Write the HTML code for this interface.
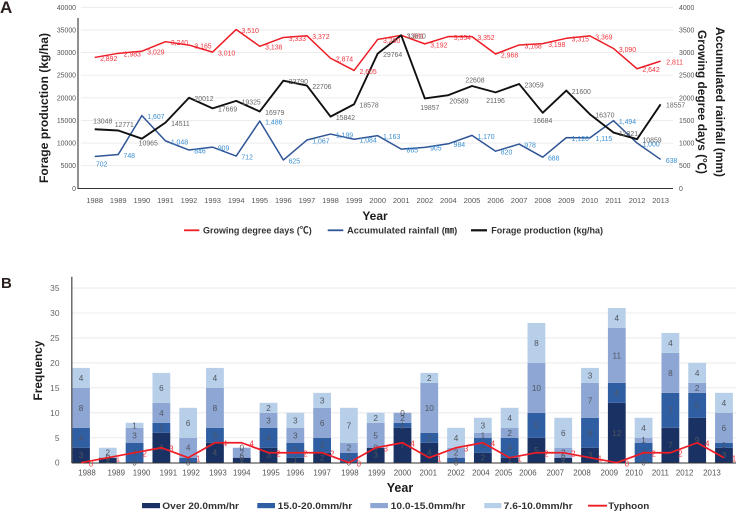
<!DOCTYPE html>
<html lang="en">
<head>
<meta charset="utf-8">
<title>Forage production and rainfall frequency charts</title>
<style>
html,body{margin:0;padding:0;background:#fff;width:738px;height:512px;overflow:hidden}
svg{display:block;font-family:"Liberation Sans","Noto Sans CJK KR",sans-serif}
.t{font-weight:bold;fill:#1c1c1c}
.lg{font-weight:bold;fill:#333;font-size:9.5px}
</style>
</head>
<body>
<svg id="fig" xmlns="http://www.w3.org/2000/svg" width="738" height="512" viewBox="0 0 738 512">
  <text x="0" y="13" font-size="17" font-weight="bold" fill="#2b1f1f">A</text>
  <text x="1" y="288" font-size="15" font-weight="bold" fill="#2b1f1f">B</text>
  <g id="chartA"></g>
  <g id="chartB"></g>

  <text class="t" transform="rotate(-90 48 108)" x="48" y="108" text-anchor="middle" font-size="11.5" textLength="150" lengthAdjust="spacingAndGlyphs">Forage production (kg/ha)</text>
  <text class="t" transform="rotate(90 716 102)" x="716" y="102" text-anchor="middle" font-size="11.5" textLength="150" lengthAdjust="spacingAndGlyphs">Accumulated rainfall (mm)</text>
  <text class="t" transform="rotate(90 698 102)" x="698" y="102" text-anchor="middle" font-size="11.5" textLength="144" lengthAdjust="spacingAndGlyphs">Growing degree days (℃)</text>
  <text class="t" x="375" y="220" text-anchor="middle" font-size="12">Year</text>
  <text class="t" x="400" y="492" text-anchor="middle" font-size="12.5">Year</text>
  <text class="t" transform="rotate(-90 42 370.5)" x="42" y="370.5" text-anchor="middle" font-size="11.5" textLength="60" lengthAdjust="spacingAndGlyphs">Frequency</text>

  <g>
    <line x1="184" x2="199.3" y1="230.3" y2="230.3" stroke="#ee1c25" stroke-width="1.8"/>
    <text class="lg" x="203" y="233.5" textLength="108.7" lengthAdjust="spacingAndGlyphs">Growing degree days (℃)</text>
    <line x1="327.7" x2="343.3" y1="230.3" y2="230.3" stroke="#2f5597" stroke-width="1.8"/>
    <text class="lg" x="347" y="233.5" textLength="110.3" lengthAdjust="spacingAndGlyphs">Accumulated rainfall (㎜)</text>
    <line x1="471" x2="487" y1="230.3" y2="230.3" stroke="#111" stroke-width="2.2"/>
    <text class="lg" x="491.3" y="233.5" textLength="111.7" lengthAdjust="spacingAndGlyphs">Forage production (kg/ha)</text>
  </g>

  <g>
    <rect x="142" y="503" width="18" height="5.2" fill="#1a3263"/>
    <text class="lg" x="162.3" y="509" textLength="76.7" lengthAdjust="spacingAndGlyphs">Over 20.0mm/hr</text>
    <rect x="257.3" y="503" width="17.7" height="5.2" fill="#2f5ea3"/>
    <text class="lg" x="277.7" y="509" textLength="74.6" lengthAdjust="spacingAndGlyphs">15.0-20.0mm/hr</text>
    <rect x="370.3" y="503" width="17.7" height="5.2" fill="#8ea6d3"/>
    <text class="lg" x="390.7" y="509" textLength="74.6" lengthAdjust="spacingAndGlyphs">10.0-15.0mm/hr</text>
    <rect x="484.3" y="503" width="17" height="5.2" fill="#b7cfe8"/>
    <text class="lg" x="503.7" y="509" textLength="69" lengthAdjust="spacingAndGlyphs">7.6-10.0mm/hr</text>
    <line x1="588" x2="607" y1="505.7" y2="505.7" stroke="#ee1c25" stroke-width="1.8"/>
    <text class="lg" x="608.3" y="509" textLength="41" lengthAdjust="spacingAndGlyphs">Typhoon</text>
  </g>
</svg>

<script>
/* ---------- data ---------- */
const years = [1988,1989,1990,1991,1992,1993,1994,1995,1996,1997,1998,1999,2000,2001,2002,2004,2005,2006,2007,2008,2009,2010,2011,2012,2013];
const growingDegreeDays = [2892,2983,3029,3240,3165,3010,3510,3138,3333,3372,2874,2605,3290,3381,3192,3354,3352,2968,3168,3198,3315,3369,3090,2642,2811];
const accumulatedRainfall = [702,748,1607,1048,846,909,712,1486,625,1067,1199,1084,1163,865,905,984,1170,820,978,688,1120,1115,1494,1000,638];
const forageProduction = [13048,12771,10965,14511,20012,17669,19325,16979,23790,22706,15842,18578,29764,33810,19857,20589,22608,21196,23059,16684,21600,16370,12321,10859,18557];
const forageTicks = [0,5000,10000,15000,20000,25000,30000,35000,40000];
const secondaryTicks = [0,500,1000,1500,2000,2500,3000,3500,4000];

const over20 = [3,1,0,6,0,4,1,3,1,2,0,3,7,4,0,2,1,5,1,3,12,0,7,9,3];
const from15to20 = [4,0,4,2,1,3,0,4,3,3,2,0,1,2,1,3,4,5,0,6,4,4,7,5,1];
const from10to15 = [8,0,3,4,4,8,2,3,3,6,2,5,2,10,2,1,2,10,2,7,11,1,8,2,6];
const from7to10 = [4,2,1,6,6,4,0,2,3,3,7,2,0,2,4,3,4,8,6,3,4,4,4,4,4];
const typhoon = [0,1,2,3,1,4,4,2,2,2,0,3,4,1,3,4,1,2,2,1,0,2,2,4,1];
const frequencyTicks = [0,5,10,15,20,25,30,35];

/* ---------- layout (not data) ---------- */
const forageLabelNudge = {0:[8,-8],1:[6,-6],2:[6.4,4.6],14:[5,9],15:[10.6,6],16:[3,-6],17:[0,8],19:[0,8]};
const rainfallLabelNudge = {0:[7,7.5]};
const freqYearNudge = [6,8.5,7,7,3,3,0,2.5,0,0,1,1,0,-1,0,-2,-6,-8.5,-8,-8,-7.5,-9.5,-10,-12.5,-12];

const SVGNS = 'http://www.w3.org/2000/svg';
function add(parent, tag, attrs, text) {
  const el = document.createElementNS(SVGNS, tag);
  for (const k in attrs) el.setAttribute(k, attrs[k]);
  if (text !== undefined) el.textContent = text;
  parent.appendChild(el);
  return el;
}

/* ---------- axis functions ---------- */
const xA = i => 94.7 + i * 23.58;
const yPrimary = v => 188.3 - v * 181 / 40000;
const ySecondary = v => 188.3 - v * 181 / 4000;
const xB = i => 81 + i * 26.79;
const yB = v => 462.7 - v * 4.99;
const fmt = v => v.toLocaleString('en-US');
const pathFrom = (vals, xf, yf) => vals.map((v, i) => (i ? 'L' : 'M') + xf(i).toFixed(2) + ' ' + yf(v).toFixed(2)).join(' ');

/* ---------- chart A ---------- */
const A = document.getElementById('chartA');

forageTicks.forEach(t => {
  if (t > 0) {
    const g = add(A, 'line', {x1: 81, x2: 673, y1: yPrimary(t), y2: yPrimary(t), stroke: '#e9e9e9', 'stroke-width': 0.9});
    
    
  }
  const lab = add(A, 'text', {x: 76, y: yPrimary(t) + 2.5, 'text-anchor': 'end', 'font-size': 6.9, fill: '#555'}, t);
  
  
});
secondaryTicks.forEach(t => {
  const lab = add(A, 'text', {x: 679, y: ySecondary(t) + 2.5, 'font-size': 6.9, fill: '#555'}, t);
  
  
});

const axisAY = add(A, 'line', {x1: 78, x2: 78, y1: 18, y2: 189, stroke: '#555', 'stroke-width': 1.3});


const axisAX = add(A, 'line', {x1: 78, x2: 673, y1: 188.5, y2: 188.5, stroke: '#333', 'stroke-width': 1});



years.forEach((yr, i) => {
  const lab = add(A, 'text', {x: xA(i), y: 203, 'text-anchor': 'middle', 'font-size': 7.5, fill: '#555'}, yr);
  
  
});

const gddLine = add(A, 'path', {d: pathFrom(growingDegreeDays, xA, ySecondary), fill: 'none', stroke: '#ee1c25', 'stroke-width': 1.5, 'stroke-linejoin': 'round'});


const rainLine = add(A, 'path', {d: pathFrom(accumulatedRainfall, xA, ySecondary), fill: 'none', stroke: '#2f5597', 'stroke-width': 1.5, 'stroke-linejoin': 'round'});


const forageLine = add(A, 'path', {d: pathFrom(forageProduction, xA, yPrimary), fill: 'none', stroke: '#111', 'stroke-width': 1.9, 'stroke-linejoin': 'round'});



growingDegreeDays.forEach((v, i) => {
  const lab = add(A, 'text', {x: xA(i) + 14, y: ySecondary(v) + 3.4, 'text-anchor': 'middle', 'font-size': 6.9, fill: '#f0353f'}, fmt(v));
  
  
});
accumulatedRainfall.forEach((v, i) => {
  const n = rainfallLabelNudge[i] || [v >= 1000 ? 14 : 11, 1];
  const lab = add(A, 'text', {x: xA(i) + n[0], y: ySecondary(v) + n[1] + 2.4, 'text-anchor': 'middle', 'font-size': 6.9, fill: '#3b8ed0'}, fmt(v));
  
  
});
forageProduction.forEach((v, i) => {
  const n = forageLabelNudge[i] || [15, 1];
  const lab = add(A, 'text', {x: xA(i) + n[0], y: yPrimary(v) + n[1] + 2.4, 'text-anchor': 'middle', 'font-size': 6.9, fill: '#666'}, v);
  
  
});

/* ---------- chart B ---------- */
const B = document.getElementById('chartB');

frequencyTicks.forEach(t => {
  if (t > 0) {
    const g = add(B, 'line', {x1: 72, x2: 736, y1: yB(t), y2: yB(t), stroke: '#ececec', 'stroke-width': 1.1});
    
    
  }
  const lab = add(B, 'text', {x: 59.5, y: yB(t) + 3, 'text-anchor': 'end', 'font-size': 8.4, fill: '#666'}, t);
  
  
});

const stackSeries = [over20, from15to20, from10to15, from7to10];
const stackColors = ['#1a3263', '#2f5ea3', '#8ea6d3', '#b7cfe8'];
const stackKeys = ['over-20', '15-20', '10-15', '7-10'];

years.forEach((yr, i) => {
  let base = 0;
  stackSeries.forEach((series, s) => {
    const v = series[i];
    const top = base + v;
    if (v > 0) {
      const bar = add(B, 'rect', {x: xB(i) - 8.9, y: yB(top), width: 17.8, height: yB(base) - yB(top), fill: stackColors[s]});
      
      
    }
    base = top;
  });
});

const axisBY = add(B, 'line', {x1: 71.8, x2: 71.8, y1: 276.7, y2: 463, stroke: '#555', 'stroke-width': 1.3});


const axisBX = add(B, 'line', {x1: 71.8, x2: 736, y1: 463, y2: 463, stroke: '#333', 'stroke-width': 1});



years.forEach((yr, i) => {
  let base = 0;
  stackSeries.forEach((series, s) => {
    const v = series[i];
    const mid = base + v / 2;
    const lab = add(B, 'text', {x: xB(i), y: yB(mid) + 3, 'text-anchor': 'middle', 'font-size': 8.2, fill: '#4f5560'}, v);
    
    
    base += v;
  });
  const tick = add(B, 'text', {x: xB(i) + freqYearNudge[i], y: 475.5, 'text-anchor': 'middle', 'font-size': 7.9, fill: '#555'}, yr);
  
  
});

const typhoonLine = add(B, 'path', {d: pathFrom(typhoon, xB, yB), fill: 'none', stroke: '#ee1c25', 'stroke-width': 1.7, 'stroke-linejoin': 'round'});



typhoon.forEach((v, i) => {
  const lab = add(B, 'text', {x: xB(i) + 10, y: yB(v) + 4, 'text-anchor': 'middle', 'font-size': 8, fill: '#f0353f'}, v);
  
  
});
</script>
</body>
</html>
